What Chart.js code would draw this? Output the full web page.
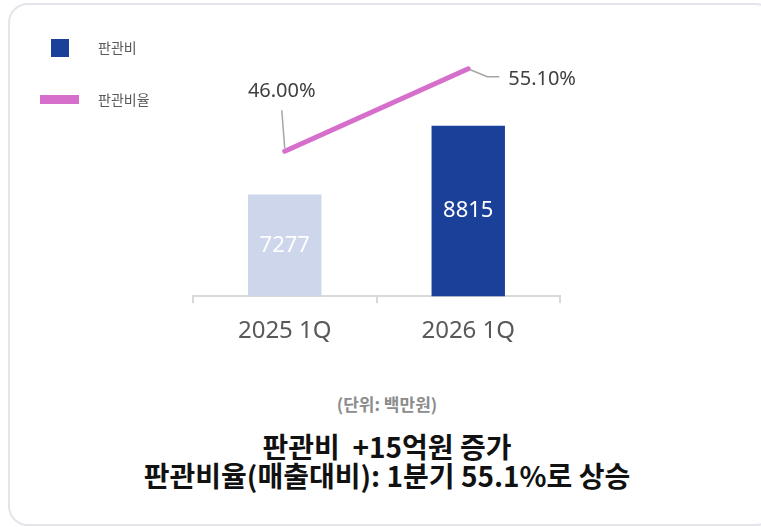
<!DOCTYPE html>
<html>
<head>
<meta charset="utf-8">
<script src="https://cdn.jsdelivr.net/npm/chart.js@4/dist/chart.umd.min.js"></script>
<style>
  body { margin: 0; width: 761px; height: 527px; overflow: hidden; background: #fff;
         font-family: "Noto Sans", "Noto Sans CJK KR", sans-serif; }
  .card { position: absolute; left: 8px; top: 3px; width: 764px; height: 519px;
          border: 2px solid #e4e4ea; border-radius: 20px; }
  #wrap { position: absolute; left: 0; top: 0; width: 761px; height: 360px; }
  .lg { position: absolute; font-size: 14px; color: #595959; font-family: "Noto Sans CJK KR", sans-serif; }
  .sw { position: absolute; }
  .note { position: absolute; left: 0; width: 774px; text-align: center; font-family: "Noto Sans CJK KR", sans-serif; }
</style>
</head>
<body>
<div class="card"></div>
<div id="wrap"><canvas id="myChart" width="761" height="360"></canvas></div>

<div class="sw" style="left:51px; top:39px; width:18px; height:18px; background:#1a409a"></div>
<div class="lg" id="lg0" style="left:98px; top:38px; line-height:18px"></div>
<div class="sw" style="left:40px; top:95px; width:39px; height:9px; background:#d66ecb"></div>
<div class="lg" id="lg1" style="left:98px; top:90px; line-height:18px"></div>

<div class="note" style="top:393px; font-size:17px; line-height:22px; font-weight:bold; color:#8c8c8c">(단위: 백만원)</div>
<div class="note" style="top:432px; font-size:28px; line-height:29px; font-weight:bold; color:#111; white-space:pre">판관비  +15억원 증가
판관비율(매출대비): 1분기 55.1%로 상승</div>

<script>
const categories = ["2025 1Q", "2026 1Q"];
const sgaValues = [7277, 8815];
const sgaRatio = [46.0, 55.1];
const seriesNames = ["판관비", "판관비율"];

document.getElementById("lg0").textContent = seriesNames[0];
document.getElementById("lg1").textContent = seriesNames[1];

// value labels on bars + callout labels on the ratio line
const labelPlugin = {
  id: "labels",
  afterDatasetsDraw(chart) {
    const ctx = chart.ctx;
    const bottom = chart.chartArea.bottom;
    ctx.save();
    const bars = chart.getDatasetMeta(0).data;
    ctx.font = "22px 'Noto Sans'";
    ctx.fillStyle = "#ffffff";
    ctx.textAlign = "center";
    ctx.textBaseline = "middle";
    bars.forEach((b, i) => {
      const base = Math.min(b.base, bottom);
      ctx.fillText(String(sgaValues[i]), b.x, (b.y + base) / 2);
    });

    const pts = chart.getDatasetMeta(1).data;
    ctx.strokeStyle = "#a6a6a6";
    ctx.lineWidth = 1.5;
    ctx.font = "20px 'Noto Sans'";
    ctx.fillStyle = "#404040";

    // first point: leader goes up
    let p = pts[0];
    ctx.beginPath();
    ctx.moveTo(p.x, p.y - 3);
    ctx.lineTo(p.x - 3, p.y - 41);
    ctx.stroke();
    ctx.textAlign = "center";
    ctx.fillText(sgaRatio[0].toFixed(2) + "%", p.x - 3, p.y - 60);

    // second point: leader goes right
    p = pts[1];
    ctx.beginPath();
    ctx.moveTo(p.x + 2, p.y + 1);
    ctx.lineTo(p.x + 19, p.y + 8);
    ctx.lineTo(p.x + 31, p.y + 8);
    ctx.stroke();
    ctx.textAlign = "left";
    ctx.fillText(sgaRatio[1].toFixed(2) + "%", p.x + 40, p.y + 11);
    ctx.restore();
  }
};

const config = {
  type: "bar",
  data: {
    labels: categories,
    datasets: [
      {
        label: seriesNames[0],
        data: sgaValues,
        backgroundColor: ["#cdd6ea", "#1a409a"],
        barPercentage: 0.4,
        categoryPercentage: 1,
        yAxisID: "y",
        order: 1,
      },
      {
        type: "line",
        label: seriesNames[1],
        data: sgaRatio,
        borderColor: "#d66ecb",
        borderWidth: 5,
        borderCapStyle: "round",
        pointRadius: 0,
        yAxisID: "y2",
        order: 0,
      },
    ],
  },
  options: {
    responsive: false,
    animation: false,
    devicePixelRatio: 1,
    layout: { padding: { left: 193, right: 201, top: 28, bottom: 0 } },
    plugins: {
      legend: { display: false },
      tooltip: { enabled: false },
    },
    scales: {
      x: {
        grid: { drawOnChartArea: false, tickLength: 7, color: "#d9d9d9", lineWidth: 2 },
        border: { color: "#d9d9d9", width: 2 },
        ticks: { font: { size: 24, family: "'Noto Sans'" }, color: "#595959", padding: 14 },
      },
      y: { display: false, min: 5000, max: 11000 },
      y2: { display: false, min: 30, max: 59.6 },
    },
  },
  plugins: [labelPlugin],
};

const myChart = new Chart(document.getElementById("myChart"), config);
</script>
</body>
</html>
